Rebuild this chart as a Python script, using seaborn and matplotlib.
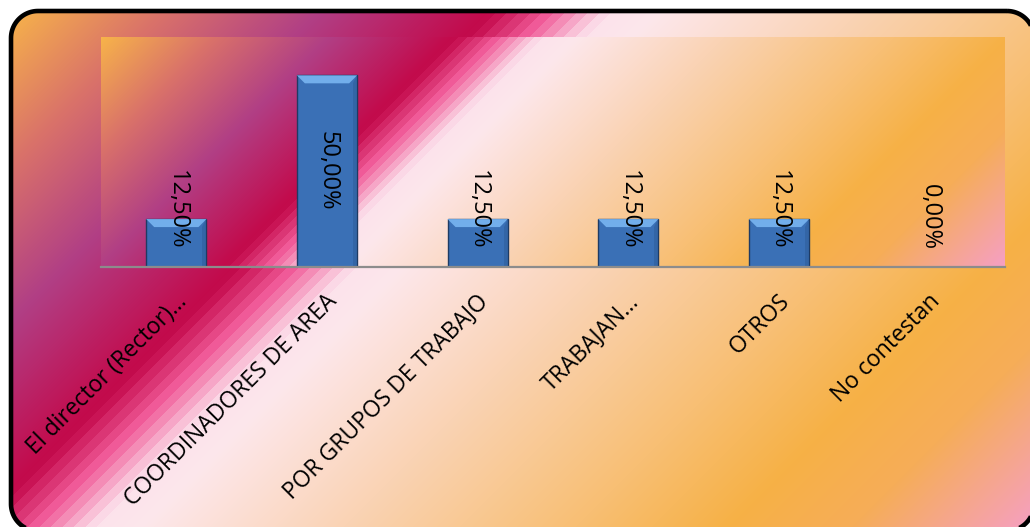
import numpy as np
import pandas as pd
import matplotlib
matplotlib.use("Agg")
import matplotlib.pyplot as plt
import seaborn as sns
from matplotlib.colors import LinearSegmentedColormap
from matplotlib.patches import Polygon
from matplotlib.transforms import ScaledTranslation

# ---------------- data ----------------
categories = ["El director (Rector)...", "COORDINADORES DE AREA", "POR GRUPOS DE TRABAJO",
              "TRABAJAN...", "OTROS", "No contestan"]
values = [12.5, 50.0, 12.5, 12.5, 12.5, 0.0]

# ---------------- style ----------------
sns.set_style("white")
plt.rcParams["font.family"] = ["Open Sans", "DejaVu Sans"]

W, H, DPI = 1030, 527, 100
fig = plt.figure(figsize=(W / DPI, H / DPI), dpi=DPI)
fig.patch.set_facecolor("white")

stops = [(0.00, "#F7B34A"), (0.10, "#D9716A"), (0.20, "#B13F85"), (0.31, "#C30A4B"),
         (0.345, "#F05A98"), (0.385, "#FCE2EC"), (0.42, "#FDE7EB"), (0.55, "#FAD3B4"),
         (0.70, "#F8BF74"), (0.80, "#F6B146"), (0.88, "#F6AD58"), (1.00, "#F59FC4")]
cmap = LinearSegmentedColormap.from_list("bg", stops, N=1024)


def gradient(h, w):
    yy, xx = np.mgrid[0:h, 0:w]
    t = (xx + yy) / float(w + h - 2)
    band = (t > 0.31) & (t < 0.39)
    t = np.where(band, np.floor(t / 0.0075) * 0.0075, t)
    return cmap(t)


def rounded_rect(x0, y0, x1, y1, r, n=24):
    pts = []
    corners = [(x1 - r, y0 + r, -90, 0), (x1 - r, y1 - r, 0, 90),
               (x0 + r, y1 - r, 90, 180), (x0 + r, y0 + r, 180, 270)]
    for cx, cy, a0, a1 in corners:
        a = np.radians(np.linspace(a0, a1, n))
        pts.extend(zip(cx + r * np.cos(a), cy + r * np.sin(a)))
    return np.array(pts)


# ---------------- outer rounded frame with gradient ----------------
bg = fig.add_axes([0, 0, 1, 1])
bg.axis("off")
x0, y0, x1, y1 = 11, 11, 1034, 531
img = bg.imshow(gradient(y1 - y0, x1 - x0), extent=[x0, x1, y1, y0],
                aspect="auto", interpolation="bilinear", zorder=1)
bg.set_xlim(0, W)
bg.set_ylim(H, 0)
frame = Polygon(rounded_rect(x0, y0, x1, y1, 27), closed=True,
                facecolor="none", edgecolor="black", linewidth=3.3, zorder=3)
bg.add_patch(frame)
img.set_clip_path(frame)

# ---------------- plot area ----------------
px0, px1, py0, py1 = 101, 1005, 37, 267
ax = fig.add_axes([px0 / W, (H - py1) / H, (px1 - px0) / W, (py1 - py0) / H])
ax.patch.set_alpha(0)
ax.imshow(gradient(py1 - py0, px1 - px0), extent=[0, 1, 0, 1], transform=ax.transAxes,
          aspect="auto", interpolation="bilinear", zorder=0)

df = pd.DataFrame({"cat": categories, "val": values})
sns.barplot(data=df, x="cat", y="val", order=categories, ax=ax, color="#3A70B6",
            saturation=1, width=0.4, edgecolor="#1E3B64", linewidth=1.0, zorder=2)

ax.set_xlim(-0.5, len(categories) - 0.5)
ax.set_ylim(0, 60)
ax.set_ylabel("")
ax.set_xlabel("")
ax.set_yticks([])

# bevel on bars
ppx = (px1 - px0) / len(categories)          # pixels per category
ppy = (py1 - py0) / 60.0                    # pixels per unit
for p in list(ax.patches):
    h = p.get_height()
    if h <= 0:
        p.set_linewidth(0)
        continue
    bx, bw = p.get_x(), p.get_width()
    dx, dy = 8 / ppx, 8 / ppy
    ax.add_patch(Polygon([(bx, h), (bx + bw, h), (bx + bw - dx, h - dy), (bx + dx, h - dy)],
                         closed=True, facecolor="#72AEEB", edgecolor="none", zorder=2.5))
    ax.add_patch(Polygon([(bx + bw, h), (bx + bw, 0), (bx + bw - dx * 0.5, 0), (bx + bw - dx * 0.5, h - dy)],
                         closed=True, facecolor="#2F5F9C", edgecolor="none", alpha=0.6, zorder=2.4))

# value labels
for i, v in enumerate(values):
    txt = f"{v:.2f}%".replace(".", ",")
    if v * ppy > 100:
        ax.text(i, v / 2, txt, rotation=270, ha="center", va="center", fontsize=17,
                color="black", zorder=4)
    else:
        ax.text(i, 17 / ppy, txt, rotation=270, ha="center", va="bottom", fontsize=17,
                color="black", zorder=4)

# axis
for s in ["left", "right", "top"]:
    ax.spines[s].set_visible(False)
ax.spines["bottom"].set_color("#8C8C8C")
ax.spines["bottom"].set_linewidth(1.6)
ax.set_xticks(range(len(categories)))
ax.set_xticklabels([])
ax.tick_params(axis="x", which="major", length=0)
ax.set_xticks(np.arange(-0.5, len(categories), 1), minor=True)
ax.tick_params(axis="x", which="minor", length=8, width=1.6, color="#8C8C8C", direction="out")

off = ScaledTranslation(7 / DPI, -31 / DPI, fig.dpi_scale_trans)
for i, c in enumerate(categories):
    ax.text(i, 0, c, transform=ax.get_xaxis_transform() + off, rotation=45,
            ha="right", va="center", rotation_mode="anchor", fontsize=16.5, color="black",
            clip_on=False)

fig.savefig("out.png", dpi=DPI)
